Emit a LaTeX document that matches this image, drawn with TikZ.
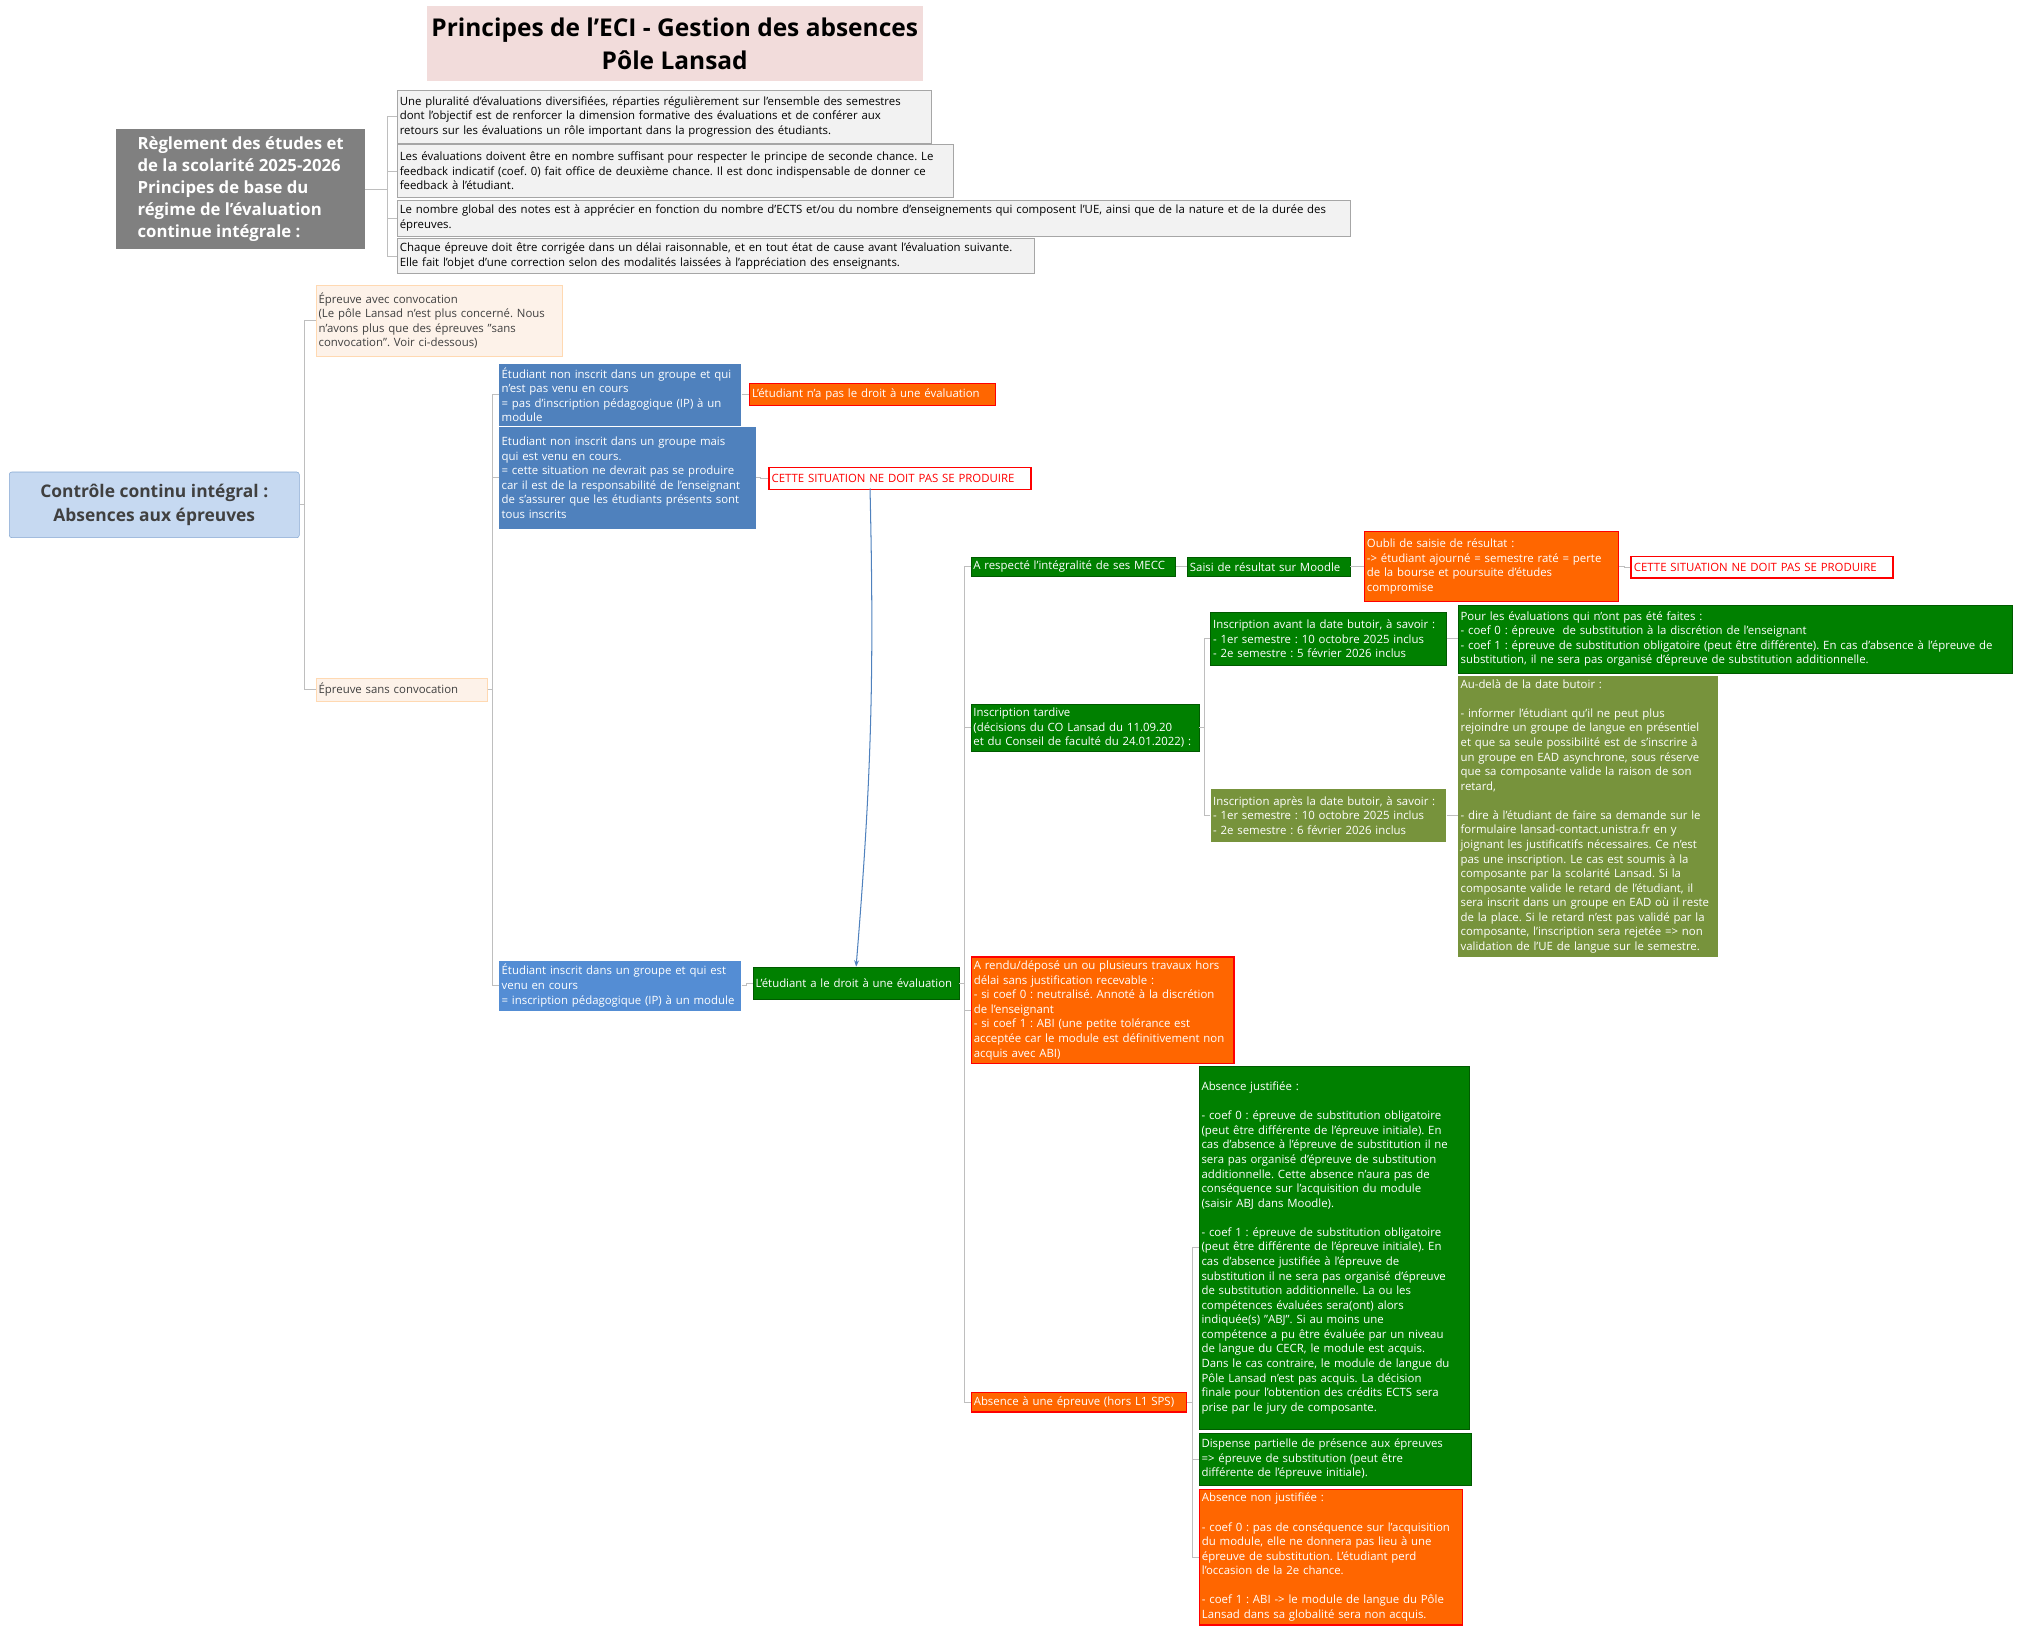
\documentclass[tikz,border=0pt]{standalone}
\usepackage{fontspec}
\setmainfont{Open Sans}
\usetikzlibrary{arrows.meta}
\definecolor{gr}{RGB}{0,128,0}
\definecolor{ol}{RGB}{119,147,60}
\definecolor{orng}{RGB}{255,102,0}
\definecolor{bl}{RGB}{79,129,189}
\definecolor{bl2}{RGB}{84,141,212}
\definecolor{lg}{RGB}{242,242,242}
\definecolor{pch}{RGB}{253,242,233}
\definecolor{rootc}{RGB}{198,217,241}
\definecolor{pink}{RGB}{242,220,219}
\definecolor{ln}{RGB}{190,190,190}
\tikzset{
 base/.style={font=\fontsize{8.85}{11.3}\selectfont\frenchspacing, inner xsep=2pt, inner ysep=3pt, align=left},
 lgb/.style={base, fill=lg, draw=gray!70},
 pchb/.style={base, fill=pch, draw=orange!30, text=black!75},
 blb/.style={base, fill=bl, text=white},
 bl2b/.style={base, fill=bl2, text=white},
 grb/.style={base, fill=gr, text=white, draw=gr!70!black},
 olb/.style={base, fill=ol, text=white},
 orb/.style={base, fill=orng, text=white, draw=red, line width=1pt},
 rdb/.style={base, fill=white, text=red, draw=red, line width=1.3pt},
 con/.style={draw=ln, line width=0.8pt},
}
\newcommand\bx[7]{\node[#6, anchor=north west, text width=#4pt-4pt, minimum height=#5pt] (#1) at (#2pt,-#3pt) {#7};}
\newcommand\lk[2]{\draw[con] (#1.east) -- ++(4pt,0) |- (#2.west);}
\begin{document}
\begin{tikzpicture}[x=1pt,y=1pt]
\useasboundingbox (0,0) rectangle (1568,-1267);
\node[fill=pink, minimum width=385pt, minimum height=58pt, align=center, font=\fontsize{19}{25}\selectfont\bfseries] (title) at (523.5,-34) {Principes de l'ECI - Gestion des absences\\Pôle Lansad};
\node[fill=gray, text=white, anchor=north west, minimum width=193pt, minimum height=90pt, align=left, font=\fontsize{13}{17}\selectfont\bfseries, inner sep=6pt] (reg) at (90,-100) {Règlement des études et\\de la scolarité 2025-2026\\Principes de base du\\régime de l’évaluation\\continue intégrale :};
\bx{a1}{308}{70}{414}{41}{lgb}{ Une pluralité d'évaluations diversifiées, réparties régulièrement sur l'ensemble des semestres\\dont l'objectif est de renforcer la dimension formative des évaluations et de conférer aux\\retours sur les évaluations un rôle important dans la progression des étudiants.}
\bx{a2}{308}{112}{431}{41}{lgb}{Les évaluations doivent être en nombre suffisant pour respecter le principe de seconde chance. Le\\feedback indicatif (coef. 0) fait office de deuxième chance. Il est donc indispensable de donner ce\\feedback à l'étudiant.}
\bx{a3}{308}{155}{739}{28}{lgb}{Le nombre global des notes est à apprécier en fonction du nombre d'ECTS et/ou du nombre d'enseignements qui composent l'UE, ainsi que de la nature et de la durée des\\épreuves.}
\bx{a4}{308}{185}{494}{27}{lgb}{Chaque épreuve doit être corrigée dans un délai raisonnable, et en tout état de cause avant l'évaluation suivante.\\Elle fait l'objet d'une correction selon des modalités laissées à l'appréciation des enseignants.}
\foreach \c in {a1,a2,a3,a4}{\draw[con] (reg.east) -- ++(17pt,0) |- (\c.west);}

\node[fill=rootc, draw=bl!70, rounded corners=2pt, anchor=north west, minimum width=225pt, minimum height=51pt, align=center, text=black!75, font=\fontsize{13.5}{18}\selectfont\bfseries] (root) at (7,-366) {Contrôle continu intégral :\\Absences aux épreuves};
\bx{b1}{245}{221}{191}{55}{pchb}{Épreuve avec convocation\\(Le pôle Lansad n'est plus concerné. Nous\\n'avons plus que des épreuves "sans\\convocation". Voir ci-dessous)}
\bx{b2}{245}{526}{133}{18}{pchb}{Épreuve sans convocation}
\lk{root}{b1}\lk{root}{b2}
\bx{c1}{387}{282}{188}{47}{blb}{Étudiant non inscrit dans un groupe et qui\\n'est pas venu en cours\\= pas d'inscription pédagogique (IP) à un\\module}
\bx{c2}{387}{331}{199}{79}{blb}{Etudiant non inscrit dans un groupe mais\\qui est venu en cours.\\= cette situation ne devrait pas se produire\\car il est de la responsabilité de l'enseignant\\de s'assurer que les étudiants présents sont\\tous inscrits}
\bx{c3}{387}{745}{188}{36}{bl2b}{Étudiant inscrit dans un groupe et qui est\\venu en cours\\= inscription pédagogique (IP) à un module}
\lk{b2}{c1}\lk{b2}{c2}\lk{b2}{c3}
\bx{d1}{581}{297}{191}{17}{orb}{L'étudiant n'a pas le droit à une évaluation}
\bx{d2}{596}{362}{203}{17}{rdb}{CETTE SITUATION NE DOIT PAS SE PRODUIRE}
\bx{d3}{584}{750}{160}{25}{grb}{L'étudiant a le droit à une évaluation}
\lk{c1}{d1}\lk{c2}{d2}\lk{c3}{d3}
\draw[bl, line width=0.8pt, -{Stealth[length=5pt]}] (675,-379) to[bend left=3] (d3.north);

\bx{e1}{753}{432}{159}{15}{grb}{A respecté l'intégralité de ses MECC}
\bx{e2}{753}{546}{177}{36}{grb}{Inscription tardive\\(décisions du CO Lansad du 11.09.20\\et du Conseil de faculté du 24.01.2022) :}
\bx{e3}{753}{742}{204}{82}{orb}{A rendu/déposé un ou plusieurs travaux hors\\délai sans justification recevable :\\- si coef 0 : neutralisé. Annoté à la discrétion\\de l'enseignant\\- si coef 1 : ABI (une petite tolérance est\\acceptée car le module est définitivement non\\acquis avec ABI)}
\bx{e4}{753}{1080}{167}{15}{orb}{Absence à une épreuve (hors L1 SPS)}
\lk{d3}{e1}\lk{d3}{e2}\lk{d3}{e3}\lk{d3}{e4}
\bx{f1}{921}{432}{126}{15}{grb}{Saisi de résultat sur Moodle}
\bx{g1}{1058}{412}{197}{54}{orb}{Oubli de saisie de résultat :\\-> étudiant ajourné = semestre raté = perte\\de la bourse et poursuite d'études\\compromise}
\bx{h1}{1265}{431}{203}{17}{rdb}{CETTE SITUATION NE DOIT PAS SE PRODUIRE}
\lk{e1}{f1}\lk{f1}{g1}\lk{g1}{h1}
\bx{f2}{939}{475}{183}{41}{grb}{Inscription avant la date butoir, à savoir :\\- 1er semestre : 10 octobre 2025 inclus\\- 2e semestre : 5 février 2026 inclus}
\bx{f3}{939}{612}{183}{41}{olb}{Inscription après la date butoir, à savoir :\\- 1er semestre : 10 octobre 2025 inclus\\- 2e semestre : 6 février 2026 inclus}
\lk{e2}{f2}\lk{e2}{f3}
\bx{g2}{1131}{469}{430}{53}{grb}{Pour les évaluations qui n'ont pas été faites :\\- coef 0 : épreuve\ \ de substitution à la discrétion de l'enseignant\\- coef 1 : épreuve de substitution obligatoire (peut être différente). En cas d'absence à l'épreuve de\\substitution, il ne sera pas organisé d'épreuve de substitution additionnelle.}
\bx{g3}{1131}{524}{202}{216}{olb}{Au-delà de la date butoir :\\\mbox{}\\- informer l'étudiant qu'il ne peut plus\\rejoindre un groupe de langue en présentiel\\et que sa seule possibilité est de s'inscrire à\\un groupe en EAD asynchrone, sous réserve\\que sa composante valide la raison de son\\retard,\\\mbox{}\\- dire à l'étudiant de faire sa demande sur le\\formulaire lansad-contact.unistra.fr en y\\joignant les justificatifs nécessaires. Ce n'est\\pas une inscription. Le cas est soumis à la\\composante par la scolarité Lansad. Si la\\composante valide le retard de l'étudiant, il\\sera inscrit dans un groupe en EAD où il reste\\de la place. Si le retard n'est pas validé par la\\composante, l'inscription sera rejetée => non\\validation de l'UE de langue sur le semestre.}
\lk{f2}{g2}\draw[con] (f3.east) -- (f3.east -| g3.west);
\bx{f4}{930}{827}{210}{282}{grb}{Absence justifiée :\\\mbox{}\\- coef 0 : épreuve de substitution obligatoire\\(peut être différente de l'épreuve initiale). En\\cas d'absence à l'épreuve de substitution il ne\\sera pas organisé d'épreuve de substitution\\additionnelle. Cette absence n'aura pas de\\conséquence sur l'acquisition du module\\(saisir ABJ dans Moodle).\\\mbox{}\\- coef 1 : épreuve de substitution obligatoire\\(peut être différente de l'épreuve initiale). En\\cas d'absence justifiée à l'épreuve de\\substitution il ne sera pas organisé d'épreuve\\de substitution additionnelle. La ou les\\compétences évaluées sera(ont) alors\\indiquée(s) "ABJ". Si au moins une\\compétence a pu être évaluée par un niveau\\de langue du CECR, le module est acquis.\\Dans le cas contraire, le module de langue du\\Pôle Lansad n'est pas acquis. La décision\\finale pour l'obtention des crédits ECTS sera\\prise par le jury de composante.}
\bx{f5}{930}{1112}{211}{40}{grb}{Dispense partielle de présence aux épreuves\\=> épreuve de substitution (peut être\\différente de l'épreuve initiale).}
\bx{f6}{930}{1155}{204}{105}{orb}{Absence non justifiée :\\\mbox{}\\- coef 0 : pas de conséquence sur l'acquisition\\du module, elle ne donnera pas lieu à une\\épreuve de substitution. L'étudiant perd\\l'occasion de la 2e chance.\\\mbox{}\\- coef 1 : ABI -> le module de langue du Pôle\\Lansad dans sa globalité sera non acquis.}
\lk{e4}{f4}\lk{e4}{f5}\lk{e4}{f6}
\end{tikzpicture}
\end{document}
